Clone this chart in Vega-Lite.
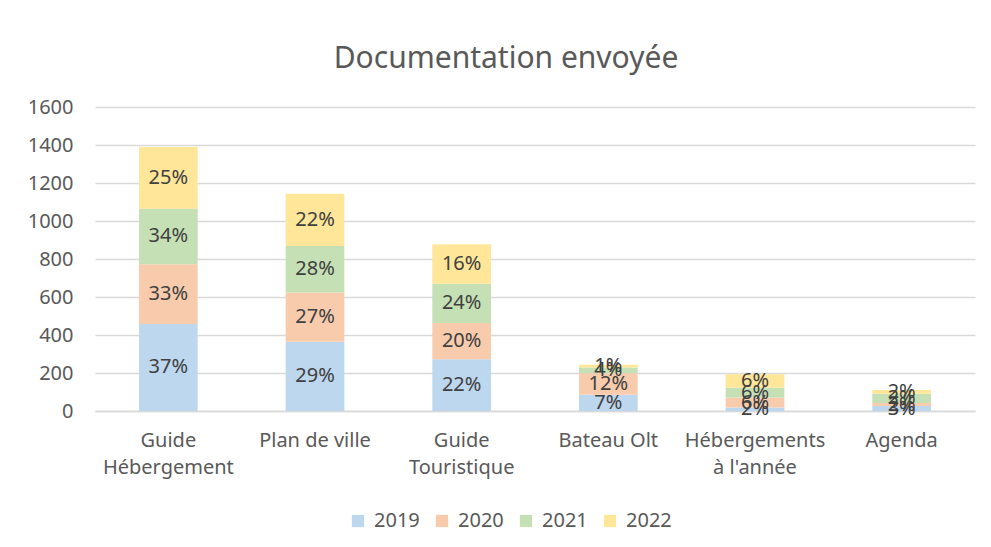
{
  "$schema": "https://vega.github.io/schema/vega-lite/v6.json",
  "width": 880,
  "height": 304,
  "autosize": {"type": "none"},
  "padding": {"left": 95, "top": 107, "right": 16, "bottom": 136},
  "background": "white",
  "config": {
    "view": {"stroke": null},
    "font": "Noto Sans",
    "axis": {"labelFont": "Noto Sans", "labelColor": "#595959", "labelFontSize": 20, "ticks": false, "domain": false, "gridColor": "#d9d9d9", "gridWidth": 1.5, "labelOverlap": false}
  },
  "title": {"text": "Documentation envoyée", "fontSize": 30, "fontWeight": "normal", "color": "#595959", "font": "Noto Sans", "offset": 23, "dx": -29},
  "data": {
    "values": [
      {"cat": "Guide Hébergement", "year": "2019", "value": 458, "label": "37%"},
      {"cat": "Guide Hébergement", "year": "2020", "value": 315, "label": "33%"},
      {"cat": "Guide Hébergement", "year": "2021", "value": 291, "label": "34%"},
      {"cat": "Guide Hébergement", "year": "2022", "value": 326, "label": "25%"},
      {"cat": "Plan de ville", "year": "2019", "value": 364, "label": "29%"},
      {"cat": "Plan de ville", "year": "2020", "value": 260, "label": "27%"},
      {"cat": "Plan de ville", "year": "2021", "value": 245, "label": "28%"},
      {"cat": "Plan de ville", "year": "2022", "value": 274, "label": "22%"},
      {"cat": "Guide Touristique", "year": "2019", "value": 273, "label": "22%"},
      {"cat": "Guide Touristique", "year": "2020", "value": 190, "label": "20%"},
      {"cat": "Guide Touristique", "year": "2021", "value": 207, "label": "24%"},
      {"cat": "Guide Touristique", "year": "2022", "value": 207, "label": "16%"},
      {"cat": "Bateau Olt", "year": "2019", "value": 85, "label": "7%"},
      {"cat": "Bateau Olt", "year": "2020", "value": 114, "label": "12%"},
      {"cat": "Bateau Olt", "year": "2021", "value": 30, "label": "4%"},
      {"cat": "Bateau Olt", "year": "2022", "value": 14, "label": "1%"},
      {"cat": "Hébergements à l'année", "year": "2019", "value": 18, "label": "2%"},
      {"cat": "Hébergements à l'année", "year": "2020", "value": 53, "label": "6%"},
      {"cat": "Hébergements à l'année", "year": "2021", "value": 51, "label": "6%"},
      {"cat": "Hébergements à l'année", "year": "2022", "value": 72, "label": "6%"},
      {"cat": "Agenda", "year": "2019", "value": 26, "label": "3%"},
      {"cat": "Agenda", "year": "2020", "value": 16, "label": "2%"},
      {"cat": "Agenda", "year": "2021", "value": 49, "label": "2%"},
      {"cat": "Agenda", "year": "2022", "value": 19, "label": "2%"}
    ]
  },
  "transform": [
    {"stack": "value", "groupby": ["cat"], "sort": [{"field": "year", "order": "ascending"}], "as": ["v0", "v1"]},
    {"calculate": "(datum.v0 + datum.v1) / 2", "as": "mid"}
  ],
  "encoding": {
    "x": {
      "field": "cat", "type": "nominal", "sort": null,
      "scale": {"paddingInner": 0.6, "paddingOuter": 0.3},
      "axis": {"title": null, "labelAngle": 0, "labelPadding": 29, "labelBaseline": "middle", "labelExpr": "datum.label == 'Guide Hébergement' ? ['Guide', 'Hébergement'] : datum.label == 'Guide Touristique' ? ['Guide', 'Touristique'] : datum.label == \"Hébergements à l'année\" ? ['Hébergements', \"à l'année\"] : datum.label", "labelLineHeight": 27, "grid": false, "domain": true, "domainColor": "#d9d9d9", "domainWidth": 1.5}
    }
  },
  "layer": [
    {
      "mark": {"type": "bar"},
      "encoding": {
        "y": {"field": "v0", "type": "quantitative", "scale": {"domain": [0, 1600]}, "axis": {"title": null, "values": [0, 200, 400, 600, 800, 1000, 1200, 1400, 1600], "format": "d", "labelPadding": 22}},
        "y2": {"field": "v1"},
        "color": {
          "field": "year", "type": "nominal",
          "scale": {"domain": ["2019", "2020", "2021", "2022"], "range": ["#bdd7ee", "#f8cbad", "#c5e0b4", "#ffe699"]},
          "legend": {"title": null, "orient": "none", "direction": "horizontal", "legendX": 253, "legendY": 404, "symbolType": "square", "symbolSize": 150, "symbolStrokeWidth": 0, "labelFontSize": 20, "labelColor": "#595959", "labelFont": "Noto Sans", "columnPadding": 12, "labelOffset": 6}
        }
      }
    },
    {
      "mark": {"type": "text", "fontSize": 20, "color": "#404040", "font": "Noto Sans", "baseline": "middle"},
      "encoding": {
        "y": {"field": "mid", "type": "quantitative", "axis": {"title": null, "values": [0, 200, 400, 600, 800, 1000, 1200, 1400, 1600], "format": "d", "labelPadding": 22}},
        "text": {"field": "label"}
      }
    }
  ]
}
